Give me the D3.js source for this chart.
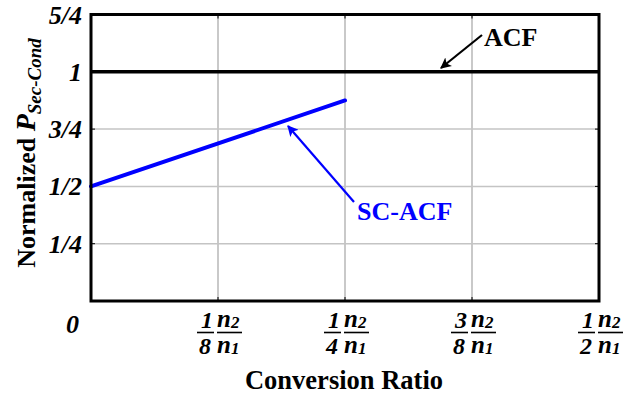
<!DOCTYPE html>
<html>
<head>
<meta charset="utf-8">
<script src="https://cdn.jsdelivr.net/npm/d3@7"></script>
<style>
  html, body { margin: 0; padding: 0; background: #fff; }
  svg { display: block; }
</style>
</head>
<body>
<svg id="chart" width="639" height="395"></svg>
<script>
// Conversion ratio ticks (multiples of n2/n1) and normalized power ticks
const xTicks = [0, 1/8, 1/4, 3/8, 1/2];
const xTickNum = ["", "1", "1", "3", "1"];
const xTickDen = ["", "8", "4", "8", "2"];
const yTicks = [0, 0.25, 0.5, 0.75, 1, 1.25];
const yTickLabels = ["0", "1/4", "1/2", "3/4", "1", "5/4"];

// Series: ACF stays at 1, SC-ACF rises from 1/2 to 7/8
const acfX = [0, 0.5];
const acfY = [1, 1];
const scacfX = [0, 0.25];
const scacfY = [0.5, 0.875];

const svg = d3.select("#chart");
const plotL = 91, plotR = 599, plotT = 14.5, plotB = 301;

const x = d3.scaleLinear().domain([0, 0.5]).range([plotL, plotR]);
const y = d3.scaleLinear().domain([0, 1.25]).range([plotB, plotT]);

// bold Times-like text helper
function label(sel, size, italic) {
  return sel.style("font-family", "Liberation Serif")
    .style("font-weight", "bold")
    .style("font-style", italic ? "italic" : "normal")
    .style("font-size", size + "px");
}

// grid
const grid = svg.append("g");
grid.selectAll("line.gx").data(xTicks.slice(1, -1)).join("line")
  .attr("x1", d => x(d)).attr("x2", d => x(d))
  .attr("y1", plotT).attr("y2", plotB)
  .attr("stroke", "#acacac").attr("stroke-width", 1.3);
grid.selectAll("line.gy").data(yTicks.slice(1, -1)).join("line")
  .attr("x1", plotL).attr("x2", plotR)
  .attr("y1", d => y(d)).attr("y2", d => y(d))
  .attr("stroke", "#c4c4c4").attr("stroke-width", 1.5);

// inward tick marks
const tickLen = 4;
const ticks = svg.append("g").attr("stroke", "#000").attr("stroke-width", 1);
xTicks.slice(1, -1).forEach(v => {
  ticks.append("line").attr("x1", x(v)).attr("x2", x(v)).attr("y1", plotB).attr("y2", plotB - tickLen);
  ticks.append("line").attr("x1", x(v)).attr("x2", x(v)).attr("y1", plotT).attr("y2", plotT + tickLen);
});
yTicks.slice(1, -1).forEach(v => {
  ticks.append("line").attr("x1", plotL).attr("x2", plotL + tickLen).attr("y1", y(v)).attr("y2", y(v));
  ticks.append("line").attr("x1", plotR).attr("x2", plotR - tickLen).attr("y1", y(v)).attr("y2", y(v));
});

// series lines
const line = d3.line().x(d => x(d[0])).y(d => y(d[1]));
svg.append("path").datum(acfX.map((v, i) => [v, acfY[i]]))
  .attr("d", line).attr("fill", "none").attr("stroke", "#000").attr("stroke-width", 3.5);
svg.append("path").datum(scacfX.map((v, i) => [v, scacfY[i]]))
  .attr("d", line).attr("fill", "none").attr("stroke", "#0000ff").attr("stroke-width", 4).attr("stroke-linecap", "round");

// frame
svg.append("rect").attr("x", plotL).attr("y", plotT)
  .attr("width", plotR - plotL).attr("height", plotB - plotT)
  .attr("fill", "none").attr("stroke", "#000").attr("stroke-width", 3);

// y tick labels (the zero sits level with the x tick labels)
label(svg.append("g").selectAll("text").data(yTicks).join("text"), 26, true)
  .attr("x", (d, i) => i === 0 ? 79 : 82)
  .attr("y", (d, i) => y(d) + (i === 0 ? 32 : 9))
  .attr("text-anchor", "end")
  .text((d, i) => yTickLabels[i]);

// x tick labels: fraction times n2/n1
const xl = svg.append("g");
xTicks.forEach((v, i) => {
  if (!xTickNum[i]) return;
  const g = xl.append("g").attr("transform", `translate(${x(v)},0)`);
  // numeric fraction
  label(g.append("text"), 24, true).attr("x", -11).attr("y", 328)
    .attr("text-anchor", "middle").text(xTickNum[i]);
  g.append("line").attr("x1", -21).attr("x2", -4).attr("y1", 332.5).attr("y2", 332.5)
    .attr("stroke", "#000").attr("stroke-width", 1.6);
  label(g.append("text"), 24, true).attr("x", -13).attr("y", 354)
    .attr("text-anchor", "middle").text(xTickDen[i]);
  // n2 / n1
  const n2 = label(g.append("text"), 25, true).attr("x", -1).attr("y", 327);
  n2.append("tspan").text("n");
  label(n2.append("tspan"), 17, true).attr("dy", 1).text("2");
  g.append("line").attr("x1", -1).attr("x2", 24).attr("y1", 332.5).attr("y2", 332.5)
    .attr("stroke", "#000").attr("stroke-width", 1.6);
  const n1 = label(g.append("text"), 25, true).attr("x", -1).attr("y", 353);
  n1.append("tspan").text("n");
  label(n1.append("tspan"), 17, true).attr("dy", 1).text("1");
});

// axis titles
label(svg.append("text"), 26.5, false).attr("x", 344).attr("y", 389)
  .attr("text-anchor", "middle").text("Conversion Ratio");
const yt = label(svg.append("text"), 26, false)
  .attr("transform", "translate(35,153) rotate(-90)")
  .attr("text-anchor", "middle");
yt.append("tspan").text("Normalized ");
label(yt.append("tspan"), 28, true).text("P");
label(yt.append("tspan"), 19, true).attr("dy", 6).text("Sec-Cond");

// annotations with arrows
const defs = svg.append("defs");
[["ahBlack", "#000"], ["ahBlue", "#0000ff"]].forEach(([id, c]) => {
  defs.append("marker").attr("id", id).attr("viewBox", "0 0 10 10")
    .attr("refX", 9).attr("refY", 5).attr("markerWidth", 5).attr("markerHeight", 5)
    .attr("orient", "auto").attr("markerUnits", "strokeWidth")
    .append("path").attr("d", "M0,0 L10,5 L0,10 L2.5,5 Z").attr("fill", c);
});
svg.append("line").attr("x1", 482).attr("y1", 35).attr("x2", 441).attr("y2", 68)
  .attr("stroke", "#000").attr("stroke-width", 2.2).attr("marker-end", "url(#ahBlack)");
label(svg.append("text"), 26, false).attr("x", 484).attr("y", 46).text("ACF");

svg.append("line").attr("x1", 354).attr("y1", 202).attr("x2", 288).attr("y2", 126)
  .attr("stroke", "#0000ff").attr("stroke-width", 2.2).attr("marker-end", "url(#ahBlue)");
label(svg.append("text"), 26, false).attr("x", 357).attr("y", 220)
  .attr("fill", "#0000ff").text("SC-ACF");
</script>
</body>
</html>
